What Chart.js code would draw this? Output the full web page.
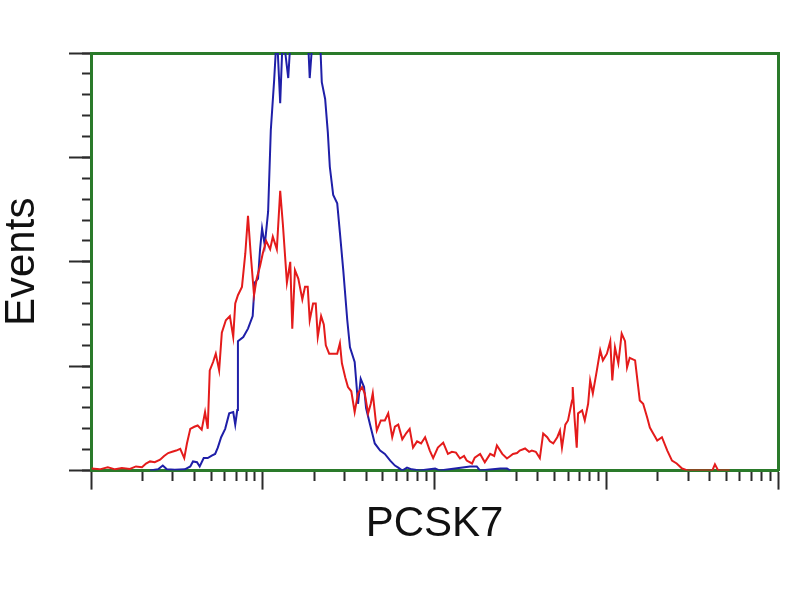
<!DOCTYPE html>
<html>
<head>
<meta charset="utf-8">
<title>PCSK7</title>
<script src="https://cdn.jsdelivr.net/npm/chart.js@4.4.1/dist/chart.umd.min.js"></script>
<style>
  body { margin: 0; background: #fff; }
</style>
</head>
<body>
<canvas id="histChart" width="800" height="600"></canvas>
<script>
// channel (0-1024, 4 log decades) and event counts
const redChannels = [
  1, 13, 25, 36, 46, 58, 67, 76, 82, 88,
  95, 103, 109, 115, 121, 127, 133, 139, 143, 148,
  154, 159, 165, 170, 174, 177, 182, 186, 191, 195,
  201, 207, 212, 215, 219, 225, 230, 234, 238, 243,
  247, 252, 256, 261, 267, 271, 277, 282, 286, 292,
  297, 300, 304, 309, 315, 319, 323, 326, 331, 335,
  338, 343, 347, 350, 355, 361, 367, 371, 374, 379,
  383, 388, 393, 398, 404, 408, 413, 417, 420, 426,
  432, 438, 443, 449, 453, 458, 464, 470, 475, 480,
  486, 492, 498, 505, 510, 517, 525, 532, 538, 544,
  550, 556, 560, 568, 572, 580, 587, 595, 601, 605,
  613, 620, 625, 629, 635, 639, 647, 653, 657, 663,
  669, 674, 680, 684, 689, 695, 699, 702, 707, 711,
  714, 717, 718, 721, 724, 726, 732, 736, 741, 744,
  748, 754, 759, 763, 769, 774, 777, 781, 786, 791,
  796, 799, 803, 811, 815, 818, 823, 829, 833, 838,
  844, 851, 859, 866, 873, 881, 890, 908, 926, 930,
  935, 952
];
const redCounts = [
  0.5, 0.3, 0.8, 0.3, 0.6, 0.4, 1.0, 0.8, 1.7, 2.2,
  2.0, 2.6, 3.5, 4.2, 4.5, 4.8, 5.2, 3.0, 6.5, 10,
  10.5, 10.8, 9.8, 14, 10, 24, 26, 28, 24, 33,
  36, 37, 32, 40, 42, 44, 52, 61, 52, 42,
  46, 49, 52, 55, 53, 56, 53, 67, 59, 45,
  50, 34, 48, 46, 41, 44, 44, 36, 40, 40,
  32, 37, 35, 30, 28, 28, 28, 30.5, 25.7, 22.3,
  20, 19, 14, 18.5, 20, 18.5, 13.7, 16, 18.5, 9.6,
  12, 12, 13.7, 8, 10.5, 11, 7.5, 9, 10, 5.5,
  7, 6.5, 8, 4.8, 3, 5.5, 6.7, 4, 4.5, 4.3,
  2.9, 3.5, 2.4, 1.7, 3.1, 4, 2, 4, 3.5, 6,
  4, 2.9, 3.5, 4, 4.2, 4.8, 5.3, 4.5, 4.8, 4.5,
  3.0, 8.9, 8, 7, 6.5, 8, 9.6, 5.5, 11, 12,
  14.4, 16.8, 20, 12, 5.5, 13.7, 14.4, 12, 16, 21.6,
  18.5, 24, 28.8, 26.4, 28, 31, 21.6, 29.5, 25.7, 32.8,
  31, 24.7, 27, 26.4, 20.9, 16.8, 16, 12.7, 10.3, 8.9,
  7.2, 8, 4.8, 2.4, 1.7, 0.5, 0, 0, 0, 1.5,
  0, 0
];

const blueChannels = [
  88, 100, 107, 113, 125, 140, 148, 152, 158, 162,
  168, 174, 180, 185, 189, 194, 200, 206, 212, 215,
  218, 219, 227, 234, 241, 244, 249, 252, 255, 259,
  264, 268, 273, 277, 282, 286, 294, 298, 312, 323,
  326, 331, 341, 344, 349, 353, 356, 361, 367, 371,
  376, 382, 386, 393, 398, 402, 407, 410, 416, 423,
  431, 438, 446, 453, 458, 464, 471, 478, 490, 513,
  520, 565, 575, 580, 610, 620, 625
];
const blueCounts = [
  0, 0.3, 1.2, 0.3, 0.2, 0.3, 1.0, 2.2, 2.0, 1.0,
  3, 3, 3.6, 4, 5.5, 8, 10, 13.7, 14, 11,
  14.5, 31, 32, 34, 37, 45, 46, 53, 58, 54,
  62, 81.5, 93.5, 105, 88, 105, 94, 105, 105, 105,
  94, 105, 105, 93, 89, 81, 72.7, 66, 64, 57,
  48, 36, 29.5, 26, 16, 22, 20, 15, 11, 6.5,
  4.8, 4, 2.4, 1.2, 0.7, 0, 0.7, 0.3, 0, 0.5,
  0, 1.0, 1.0, 0, 0.5, 0.5, 0
];

const decadeTicks = [0, 256, 512, 768, 1024];
const minorMultipliers = [2, 3, 4, 5, 6, 7, 8, 9];

const green = '#2a7a2a';
const tickDark = '#2b2b2b';

const toPoints = (xs, ys) => xs.map((x, i) => ({ x: x, y: ys[i] }));

const minorDecadeTicks = () => {
  const out = [];
  for (let d = 0; d < 4; d++) {
    minorMultipliers.forEach(m => out.push({ value: 256 * (d + Math.log10(m)) }));
  }
  return out;
};

new Chart(document.getElementById('histChart'), {
  type: 'line',
  data: {
    datasets: [{
      label: 'PCSK7',
      data: toPoints(redChannels, redCounts),
      borderColor: '#e41b1b',
      borderWidth: 2,
      pointRadius: 0,
      tension: 0
    }, {
      label: 'Control',
      data: toPoints(blueChannels, blueCounts),
      borderColor: '#1f1fa8',
      borderWidth: 2,
      pointRadius: 0,
      tension: 0
    }]
  },
  options: {
    responsive: false,
    animation: false,
    layout: {
      padding: { top: 53, right: 22, left: 1, bottom: 50 }
    },
    plugins: {
      legend: { display: false },
      tooltip: { enabled: false }
    },
    scales: {
      x: {
        type: 'linear',
        position: 'bottom',
        min: 0,
        max: 1024,
        afterBuildTicks: scale => {
          scale.ticks = decadeTicks.map(v => ({ value: v }));
        },
        ticks: { display: false },
        grid: {
          drawOnChartArea: false,
          tickLength: 19,
          tickColor: tickDark,
          tickWidth: 2
        },
        border: { color: green, width: 3 },
        title: {
          display: true,
          text: 'PCSK7',
          color: '#111',
          font: { family: '"Liberation Sans", Arial, sans-serif', size: 42 },
          padding: { top: 10, bottom: 0 }
        }
      },
      xMinor: {
        type: 'linear',
        axis: 'x',
        position: { y: 0 },
        min: 0,
        max: 1024,
        afterBuildTicks: scale => {
          scale.ticks = minorDecadeTicks();
        },
        ticks: { display: false },
        grid: {
          drawOnChartArea: false,
          tickLength: 10,
          tickColor: tickDark,
          tickWidth: 2
        },
        border: { display: false }
      },
      xTop: {
        type: 'linear',
        position: 'top',
        min: 0,
        max: 1024,
        ticks: { display: false },
        grid: { display: false, drawTicks: false },
        border: { color: green, width: 3 }
      },
      y: {
        type: 'linear',
        position: 'left',
        min: 0,
        max: 100,
        ticks: { display: false, stepSize: 25 },
        grid: {
          drawOnChartArea: false,
          tickLength: 22,
          tickColor: tickDark,
          tickWidth: 2
        },
        border: { color: green, width: 3 },
        title: {
          display: true,
          text: 'Events',
          color: '#111',
          font: { family: '"Liberation Sans", Arial, sans-serif', size: 42, lineHeight: 1 },
          padding: { top: 0, bottom: 26 }
        }
      },
      yMinor: {
        type: 'linear',
        axis: 'y',
        position: { x: 0 },
        min: 0,
        max: 100,
        ticks: { display: false, stepSize: 5 },
        grid: {
          drawOnChartArea: false,
          tickLength: 9,
          tickColor: tickDark,
          tickWidth: 2
        },
        border: { display: false }
      },
      yRight: {
        type: 'linear',
        position: 'right',
        min: 0,
        max: 100,
        ticks: { display: false },
        grid: { display: false, drawTicks: false },
        border: { color: green, width: 3 }
      }
    }
  }
});
</script>
</body>
</html>
